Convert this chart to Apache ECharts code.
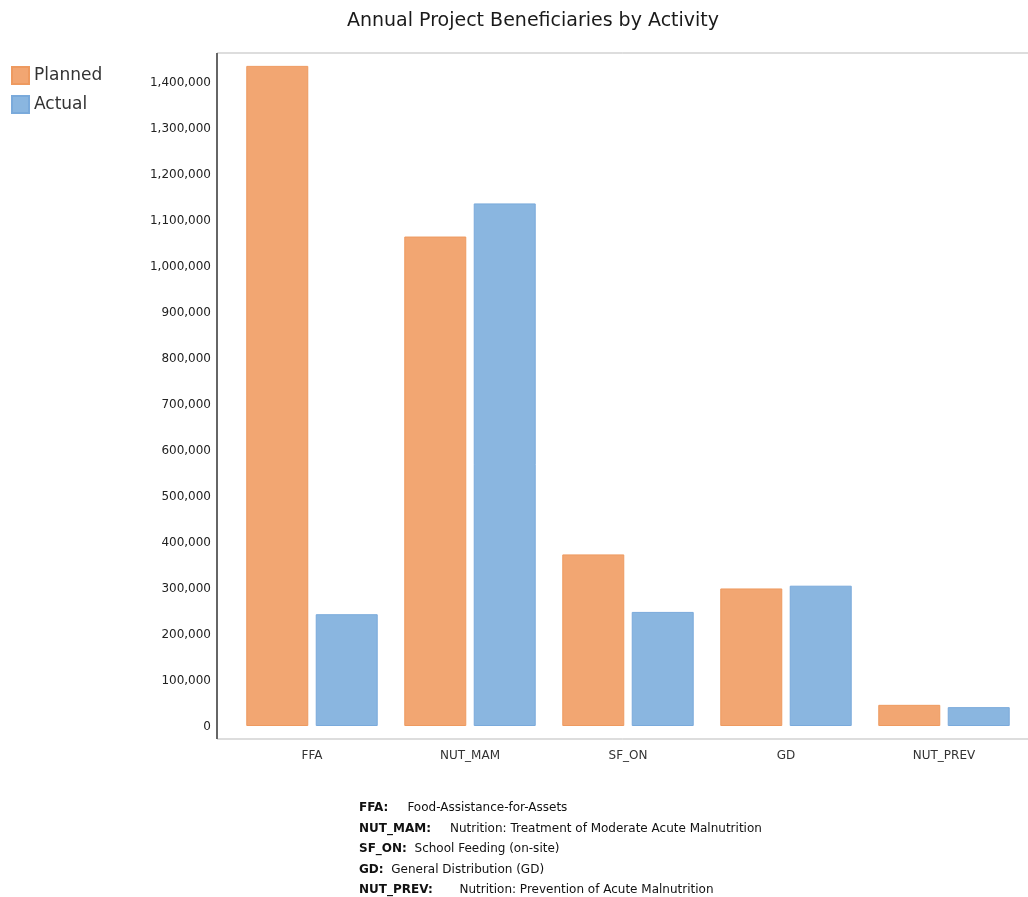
<!DOCTYPE html>
<html>
<head>
<meta charset="utf-8">
<script src="https://cdn.jsdelivr.net/npm/echarts@6/dist/echarts.min.js"></script>
<style>
  html, body { margin: 0; padding: 0; background: #fff; }
  #chart { width: 1028px; height: 897px; }
</style>
</head>
<body>
<div id="chart"></div>
<script>
const activities = ['FFA', 'NUT_MAM', 'SF_ON', 'GD', 'NUT_PREV'];
const planned = [1435000, 1064000, 373000, 299000, 46000];
const actual = [243000, 1136000, 248000, 305000, 41000];

const noteKeys = ['FFA:', 'NUT_MAM:', 'SF_ON:', 'GD:', 'NUT_PREV:'];
const noteTexts = [
  'Food-Assistance-for-Assets',
  'Nutrition: Treatment of Moderate Acute Malnutrition',
  'School Feeding (on-site)',
  'General Distribution (GD)',
  'Nutrition: Prevention of Acute Malnutrition'
];
const noteGaps = ['     ', '     ', '  ', '  ', '       '];

const FONT = '"DejaVu Sans", sans-serif';

const chart = echarts.init(document.getElementById('chart'), null, { renderer: 'canvas' });

// 脚注文字
const noteText = noteKeys.map((k, i) => '{k|' + k + '}' + noteGaps[i] + '{v|' + noteTexts[i] + '}').join('\n');

chart.setOption({
  animation: false,
  backgroundColor: '#fff',
  textStyle: { fontFamily: FONT },
  title: {
    text: 'Annual Project Beneficiaries by Activity',
    left: 528,
    textAlign: 'center',
    top: 7,
    textStyle: { fontSize: 19, fontWeight: 'normal', color: '#1a1a1a', fontFamily: FONT }
  },
  legend: {
    orient: 'vertical',
    left: 6,
    top: 61,
    itemWidth: 17,
    itemHeight: 17,
    itemGap: 10,
    icon: 'rect',
    textStyle: { fontSize: 17, color: '#333', fontFamily: FONT },
    data: ['Planned', 'Actual']
  },
  grid: { left: 233, right: 5, top: 53, bottom: 171, containLabel: false },
  xAxis: {
    type: 'category',
    data: activities,
    axisLine: { show: false },
    axisTick: { show: false },
    axisLabel: { margin: 24, fontSize: 12, color: '#333', fontFamily: FONT }
  },
  yAxis: {
    type: 'value',
    min: 0,
    max: 1463000,
    interval: 100000,
    axisLine: { show: false },
    axisTick: { show: false },
    splitLine: { show: false },
    axisLabel: {
      showMaxLabel: false,
      margin: 22,
      fontSize: 12,
      color: '#222',
      fontFamily: FONT,
      verticalAlign: 'top',
      padding: [-5, 0, 0, 0],
      formatter: v => v.toLocaleString('en-US')
    }
  },
  series: [
    {
      name: 'Planned',
      type: 'bar',
      data: planned,
      barWidth: 62,
      barGap: '12%',
      itemStyle: { color: '#f2a672', borderColor: '#ee9a60', borderWidth: 1 }
    },
    {
      name: 'Actual',
      type: 'bar',
      data: actual,
      barWidth: 62,
      barGap: '12%',
      itemStyle: { color: '#8ab6e0', borderColor: '#7aaadb', borderWidth: 1 }
    }
  ],
  graphic: [
    { type: 'line', shape: { x1: 217, y1: 53, x2: 1028, y2: 53 }, style: { stroke: '#bbb', lineWidth: 1 }, silent: true },
    { type: 'line', shape: { x1: 217, y1: 739, x2: 1028, y2: 739 }, style: { stroke: '#bbb', lineWidth: 1 }, silent: true },
    { type: 'line', shape: { x1: 217, y1: 53, x2: 217, y2: 739 }, style: { stroke: '#666', lineWidth: 2 }, silent: true },
    {
      type: 'text',
      left: 359,
      top: 798,
      silent: true,
      style: {
        text: noteText,
        fontFamily: FONT,
        fontSize: 12,
        lineHeight: 20.5,
        fill: '#111',
        rich: {
          k: { fontWeight: 'bold', fontSize: 12, fontFamily: FONT, fill: '#111', lineHeight: 20.5 },
          v: { fontSize: 12, fontFamily: FONT, fill: '#111', lineHeight: 20.5 }
        }
      }
    }
  ]
});

window.addEventListener('resize', () => chart.resize());
</script>
</body>
</html>
